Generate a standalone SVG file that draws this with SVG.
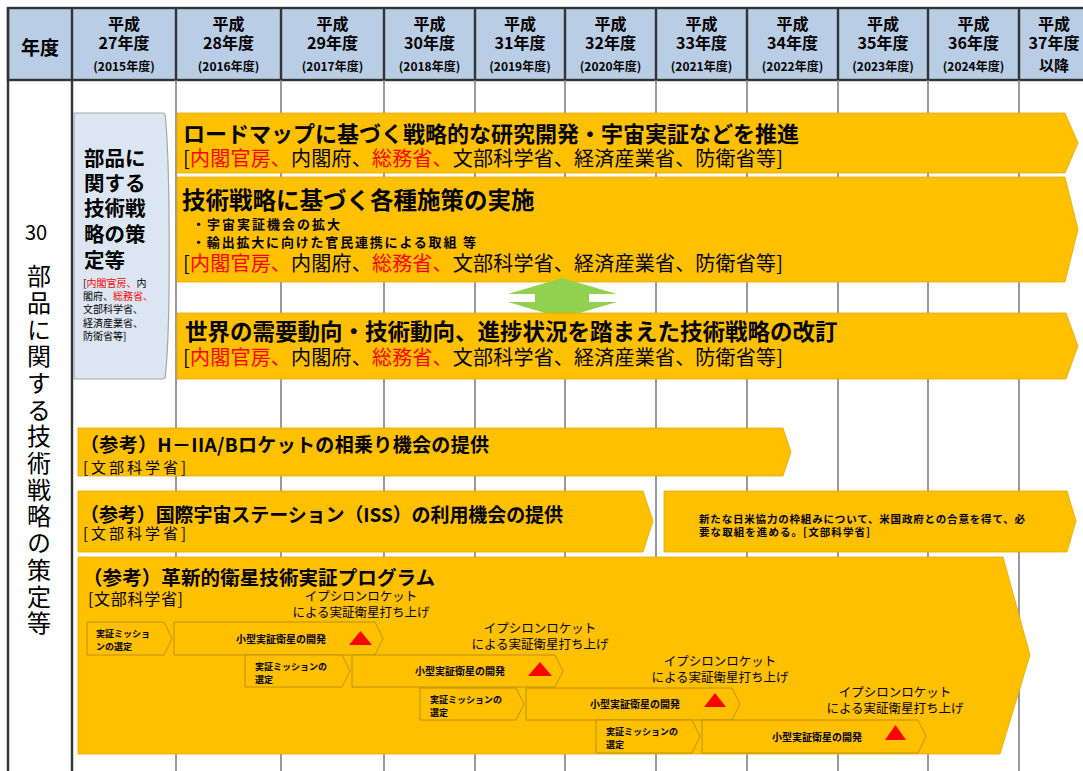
<svg xmlns="http://www.w3.org/2000/svg" width="1083" height="771" viewBox="0 0 1083 771">
<defs>
<style>
text{font-family:'Noto Sans CJK JP','Noto Sans CJK SC',sans-serif;fill:#000}
.b{font-weight:700}
.r{fill:#ff0000}
.hd{font-weight:700;text-anchor:middle}
.bn{fill:#ffc000;stroke:#e3a800;stroke-width:0.8}
.ch{fill:#ffc000;stroke:#b48c10;stroke-width:0.9}
.g{stroke:#808080;stroke-width:1.6}
.dk{stroke:#333;stroke-width:2.4}
.tri{fill:#ff0000}
.sel{font-size:9px;font-weight:700}
.dev{font-size:10px;font-weight:700;text-anchor:middle}
.lab{font-size:12.5px;text-anchor:middle}
.vt{writing-mode:vertical-rl;text-orientation:upright}
</style>
</defs>
<rect x="0" y="0" width="1083" height="771" fill="#fff"/>
<g id="grid">
<rect x="8" y="8" width="1085" height="72" fill="#b9cde5" stroke="#333" stroke-width="2.4"/>
<g class="g">
<line x1="176" y1="80" x2="176" y2="771"/><line x1="281" y1="80" x2="281" y2="771"/><line x1="384" y1="80" x2="384" y2="771"/><line x1="475" y1="80" x2="475" y2="771"/><line x1="565" y1="80" x2="565" y2="771"/><line x1="656" y1="80" x2="656" y2="771"/><line x1="747" y1="80" x2="747" y2="771"/><line x1="838" y1="80" x2="838" y2="771"/><line x1="928" y1="80" x2="928" y2="771"/><line x1="1019" y1="80" x2="1019" y2="771"/>
</g>
<g class="dk">
<line x1="8" y1="8" x2="8" y2="771"/><line x1="72" y1="8" x2="72" y2="771"/>
<line x1="176" y1="8" x2="176" y2="80"/><line x1="281" y1="8" x2="281" y2="80"/><line x1="384" y1="8" x2="384" y2="80"/><line x1="475" y1="8" x2="475" y2="80"/><line x1="565" y1="8" x2="565" y2="80"/><line x1="656" y1="8" x2="656" y2="80"/><line x1="747" y1="8" x2="747" y2="80"/><line x1="838" y1="8" x2="838" y2="80"/><line x1="928" y1="8" x2="928" y2="80"/><line x1="1019" y1="8" x2="1019" y2="80"/>
</g>
</g>
<g id="header">
<text x="40" y="55" class="hd" font-size="19">年度</text>
<g font-size="16">
<text x="124" y="30" class="hd">平成</text><text x="124" y="49" class="hd">27年度</text>
<text x="228.5" y="30" class="hd">平成</text><text x="228.5" y="49" class="hd">28年度</text>
<text x="332.5" y="30" class="hd">平成</text><text x="332.5" y="49" class="hd">29年度</text>
<text x="429.5" y="30" class="hd">平成</text><text x="429.5" y="49" class="hd">30年度</text>
<text x="520" y="30" class="hd">平成</text><text x="520" y="49" class="hd">31年度</text>
<text x="610.5" y="30" class="hd">平成</text><text x="610.5" y="49" class="hd">32年度</text>
<text x="701.5" y="30" class="hd">平成</text><text x="701.5" y="49" class="hd">33年度</text>
<text x="792.5" y="30" class="hd">平成</text><text x="792.5" y="49" class="hd">34年度</text>
<text x="883" y="30" class="hd">平成</text><text x="883" y="49" class="hd">35年度</text>
<text x="973.5" y="30" class="hd">平成</text><text x="973.5" y="49" class="hd">36年度</text>
<text x="1054" y="30" class="hd">平成</text><text x="1054" y="49" class="hd">37年度</text>
<text x="1054" y="71" class="hd" font-size="15">以降</text>
</g>
<g font-size="12">
<text x="124" y="71" class="hd">(2015年度)</text>
<text x="228.5" y="71" class="hd">(2016年度)</text>
<text x="332.5" y="71" class="hd">(2017年度)</text>
<text x="429.5" y="71" class="hd">(2018年度)</text>
<text x="520" y="71" class="hd">(2019年度)</text>
<text x="610.5" y="71" class="hd">(2020年度)</text>
<text x="701.5" y="71" class="hd">(2021年度)</text>
<text x="792.5" y="71" class="hd">(2022年度)</text>
<text x="883" y="71" class="hd">(2023年度)</text>
<text x="973.5" y="71" class="hd">(2024年度)</text>
</g>
</g>
<g id="row-title">
<text x="36" y="240" font-size="20" text-anchor="middle">30</text>
<text x="39" y="264" font-size="24" class="vt" letter-spacing="2.7">部品に関する技術戦略の策定等</text>
</g>
<g id="strategy-box">
<path d="M74,113 H162 Q165.5,113 165.5,117 C170,170 171,320 165.5,375 Q165.5,379 162,379 H74 Z" fill="#dce6f2" stroke="#a6a6a6" stroke-width="1.2"/>
<g font-size="20.5" class="b">
<text x="84" y="166" class="b">部品に</text>
<text x="84" y="191" class="b">関する</text>
<text x="84" y="216" class="b">技術戦</text>
<text x="84" y="242" class="b">略の策</text>
<text x="84" y="268" class="b">定等</text>
</g>
<g font-size="10">
<text x="83" y="287">[<tspan class="r">内閣官房、</tspan>内</text>
<text x="83" y="300">閣府、<tspan class="r">総務省、</tspan></text>
<text x="83" y="313">文部科学省、</text>
<text x="83" y="327">経済産業省、</text>
<text x="83" y="340">防衛省等]</text>
</g>
</g>
<g id="roadmap">
<path class="bn" d="M177,113 H1065 L1078,143 L1065,173 H177 Z"/>
<text x="183" y="141.5" font-size="22" class="b">ロードマップに基づく戦略的な研究開発・宇宙実証などを推進</text>
<text x="183" y="165.5" font-size="20" textLength="600">[<tspan class="r">内閣官房、</tspan>内閣府、<tspan class="r">総務省、</tspan>文部科学省、経済産業省、防衛省等]</text>
</g>
<g id="implementation">
<path class="bn" d="M177,177 H1065 L1078,229.5 L1065,282 H177 Z"/>
<text x="182" y="208.5" font-size="23.5" class="b">技術戦略に基づく各種施策の実施</text>
<text x="192" y="229" font-size="13" class="b" textLength="148">・宇宙実証機会の拡大</text>
<text x="192" y="247" font-size="13" class="b" textLength="284">・輸出拡大に向けた官民連携による取組 等</text>
<text x="183" y="271" font-size="20" textLength="600">[<tspan class="r">内閣官房、</tspan>内閣府、<tspan class="r">総務省、</tspan>文部科学省、経済産業省、防衛省等]</text>
</g>
<g id="connectors">
<polygon points="562,278 617,294 589,294 589,302 617,302 562,318 508,302 535,302 535,294 508,294" fill="#92d050"/>
</g>
<g id="revision">
<path class="bn" d="M177,313 H1066 L1078,346 L1066,379 H177 Z"/>
<text x="185" y="340" font-size="22.5" class="b">世界の需要動向・技術動向、進捗状況を踏まえた技術戦略の改訂</text>
<text x="183" y="365" font-size="20" textLength="600">[<tspan class="r">内閣官房、</tspan>内閣府、<tspan class="r">総務省、</tspan>文部科学省、経済産業省、防衛省等]</text>
</g>
<g id="h2a">
<path class="bn" d="M78,428 H783 L791,452 L783,476 H78 Z"/>
<text x="80" y="452" font-size="19" class="b" textLength="409">（参考）H－IIA/Bロケットの相乗り機会の提供</text>
<text x="83" y="473" font-size="15" textLength="103">[文部科学省]</text>
</g>
<g id="iss">
<path class="bn" d="M78,491 H643 L653,521 L643,552 H78 Z"/>
<text x="80" y="522" font-size="19" class="b" textLength="483">（参考）国際宇宙ステーション（ISS）の利用機会の提供</text>
<text x="83" y="539" font-size="15" textLength="103">[文部科学省]</text>
</g>
<g id="iss-future">
<path class="bn" d="M664,491 H1067 L1076,521 L1067,552 H664 Z"/>
<text x="699" y="523" font-size="10.5" class="b" textLength="326">新たな日米協力の枠組みについて、米国政府との合意を得て、必</text>
<text x="699" y="536" font-size="10.5" class="b" textLength="171">要な取組を進める。[文部科学省]</text>
</g>
<g id="innovative-program">
<path class="bn" d="M78,557 H1003 L1030,655 L1000,754 H78 Z"/>
<text x="83" y="585" font-size="19.5" class="b" textLength="352">（参考）革新的衛星技術実証プログラム</text>
<text x="88" y="605" font-size="16" textLength="95">[文部科学省]</text>
</g>
<g id="round-1">
<path class="ch" d="M87,622 H164 L172,638.5 L164,655 H87 Z"/>
<text x="96" y="637" class="sel">実証ミッショ</text>
<text x="96" y="650" class="sel">ンの選定</text>
<path class="ch" d="M174,622 H375 L383,638.5 L375,655 H174 Z"/>
<text x="281" y="643" class="dev">小型実証衛星の開発</text>
<polygon class="tri" points="360.5,631 372,645 349,645"/>
<text x="361" y="601" class="lab">イプシロンロケット</text>
<text x="361" y="617" class="lab">による実証衛星打ち上げ</text>
</g>
<g id="round-2">
<path class="ch" d="M245,655 H342 L350,671 L342,687 H245 Z"/>
<text x="255" y="670" class="sel">実証ミッションの</text>
<text x="255" y="683" class="sel">選定</text>
<path class="ch" d="M352,655 H555 L563,671 L555,687 H352 Z"/>
<text x="460" y="675" class="dev">小型実証衛星の開発</text>
<polygon class="tri" points="540,662 552,676 528,676"/>
<text x="540" y="633" class="lab">イプシロンロケット</text>
<text x="540" y="649" class="lab">による実証衛星打ち上げ</text>
</g>
<g id="round-3">
<path class="ch" d="M420,688 H516 L524,704 L516,720 H420 Z"/>
<text x="430" y="703" class="sel">実証ミッションの</text>
<text x="430" y="716" class="sel">選定</text>
<path class="ch" d="M526,688 H732 L740,704 L732,720 H526 Z"/>
<text x="635" y="708" class="dev">小型実証衛星の開発</text>
<polygon class="tri" points="715,693 726,707 704,707"/>
<text x="720" y="666" class="lab">イプシロンロケット</text>
<text x="720" y="682" class="lab">による実証衛星打ち上げ</text>
</g>
<g id="round-4">
<path class="ch" d="M596,720 H692 L700,736.5 L692,753 H596 Z"/>
<text x="606" y="735" class="sel">実証ミッションの</text>
<text x="606" y="748" class="sel">選定</text>
<path class="ch" d="M702,720 H918 L926,736.5 L918,753 H702 Z"/>
<text x="817" y="741" class="dev">小型実証衛星の開発</text>
<polygon class="tri" points="895.5,725 906,740 885,740"/>
<text x="895" y="697" class="lab">イプシロンロケット</text>
<text x="895" y="713" class="lab">による実証衛星打ち上げ</text>
</g>
</svg>
